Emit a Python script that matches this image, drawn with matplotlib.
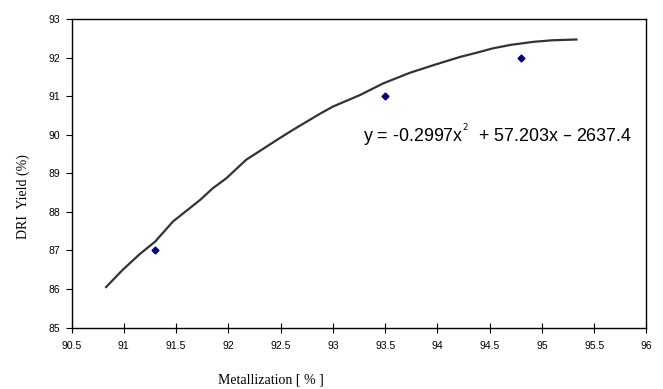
import matplotlib
matplotlib.use('Agg')
import matplotlib.pyplot as plt

# measured points
metal = [91.3, 93.5, 94.8]
yield_pct = [87, 91, 92]

# trend curve
curve_x = [90.83, 90.99, 91.15, 91.30, 91.47, 91.60, 91.73, 91.85, 91.98, 92.17,
           92.33, 92.49, 92.62, 92.75, 92.88, 93.00, 93.13, 93.26, 93.48, 93.74,
           93.98, 94.22, 94.38, 94.53, 94.70, 94.92, 95.10, 95.33]
curve_y = [86.05, 86.50, 86.90, 87.23, 87.75, 88.03, 88.31, 88.61, 88.87, 89.35,
           89.63, 89.91, 90.13, 90.34, 90.55, 90.73, 90.88, 91.03, 91.33, 91.61,
           91.82, 92.02, 92.13, 92.24, 92.33, 92.41, 92.45, 92.47]

xticks = [90.5, 91, 91.5, 92, 92.5, 93, 93.5, 94, 94.5, 95, 95.5, 96]
xtick_labels = ['90.5', '91', '91.5', '92', '92.5', '93', '93.5', '94',
                '94.5', '95', '95.5', '96']
yticks = [85, 86, 87, 88, 89, 90, 91, 92, 93]

plt.rcParams['font.family'] = ['Liberation Sans', 'DejaVu Sans']

fig = plt.figure(figsize=(6.63, 3.89), dpi=100)
ax = fig.add_axes([0.108, 0.158, 0.867, 0.793])

ax.plot(curve_x, curve_y, color='#333333', lw=1.6)
ax.plot(metal, yield_pct, 'D', color='#000080', ms=3.5, ls='none')

ax.set_xlim(90.5, 96)
ax.set_ylim(85, 93)
ax.set_xticks(xticks)
ax.set_xticklabels(xtick_labels)
ax.set_yticks(yticks)
ax.tick_params(axis='x', direction='inout', length=7, width=0.8, labelsize=7.5, pad=6)
ax.tick_params(axis='y', direction='out', length=4, width=0.8, labelsize=7.5, pad=4)
for s in ax.spines.values():
    s.set_linewidth(1.0)

ax.text(93.29, 90.0, 'y = -0.2997x$^{^2}$  + 57.203x \u2013 2637.4', fontsize=12.9,
        va='center', ha='left')

fig.text(0.035, 1 - 197 / 389, 'DRI  Yield (%)', rotation=90, ha='center', va='center',
         family='Liberation Serif', fontsize=10)
fig.text(271 / 663, 1 - 380 / 389, 'Metallization [ % ]', ha='center', va='center',
         family='Liberation Serif', fontsize=10)

fig.savefig('out.png', dpi=100)
